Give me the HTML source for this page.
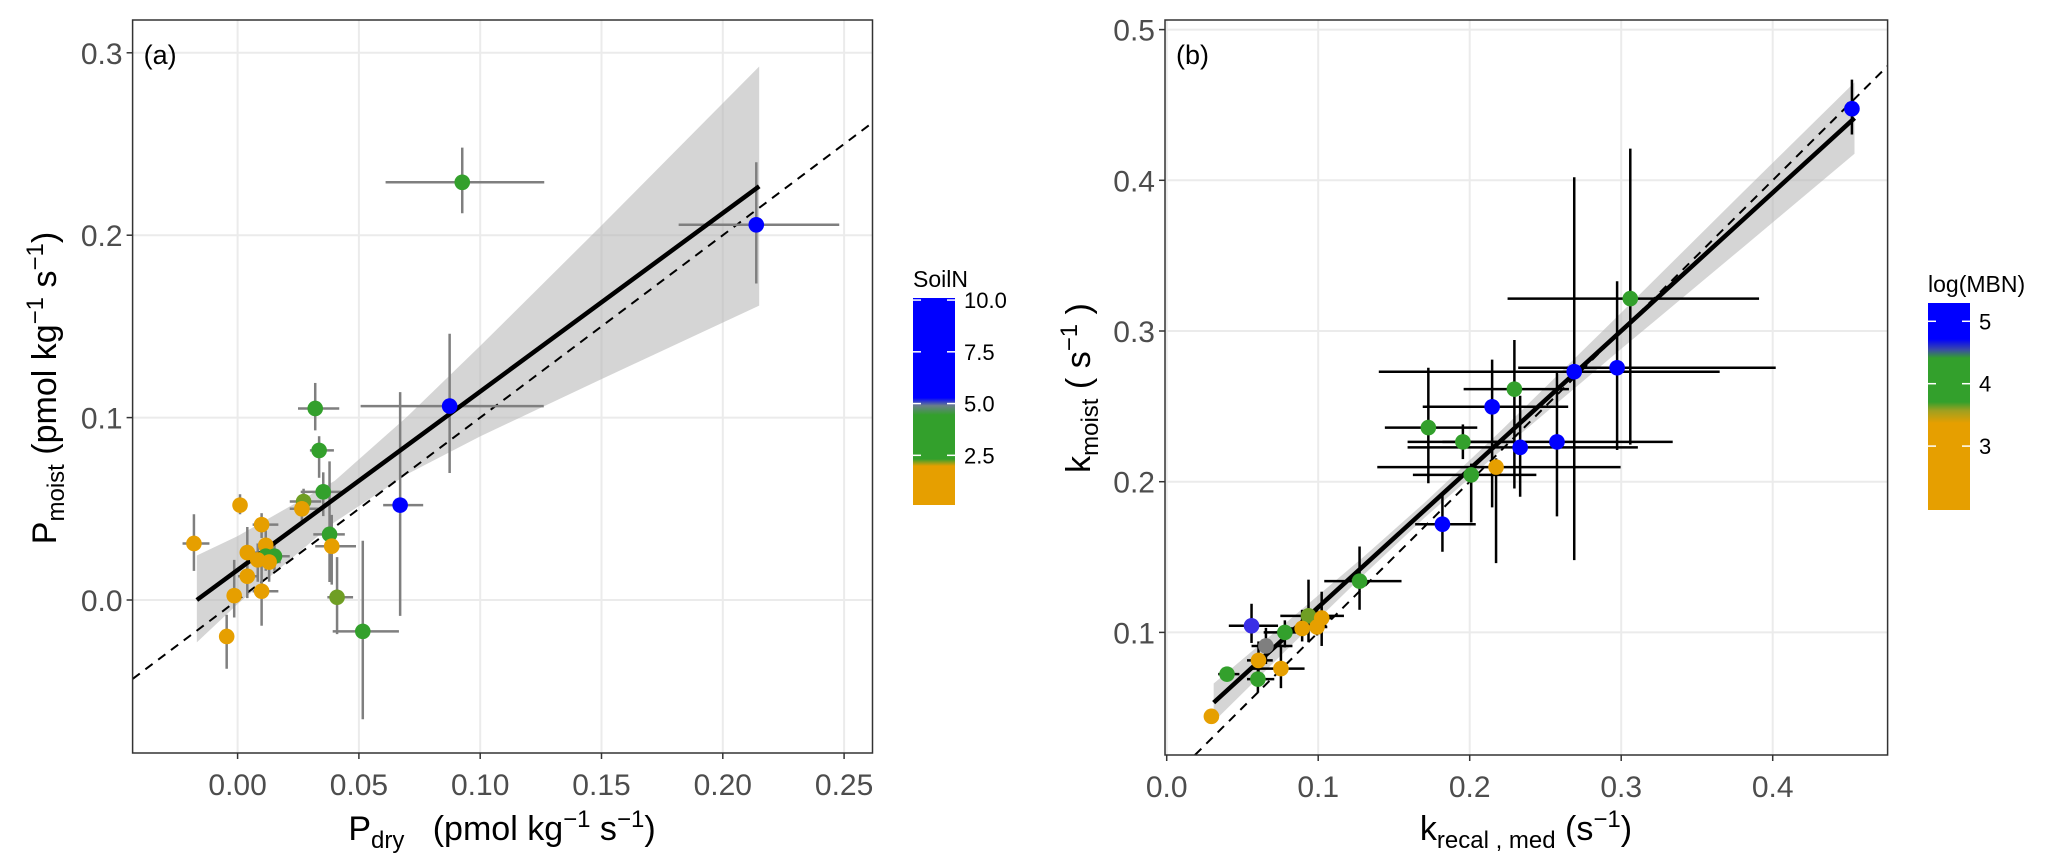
<!DOCTYPE html>
<html><head><meta charset="utf-8"><style>
html,body{margin:0;padding:0;background:#fff;width:2066px;height:861px;overflow:hidden;}
svg{display:block;font-family:"Liberation Sans",Arial,sans-serif;}
</style></head><body>
<svg id="fig" width="2066" height="861" viewBox="0 0 2066 861" xmlns="http://www.w3.org/2000/svg">
<defs>
<linearGradient id="gradA" x1="0" y1="0" x2="0" y2="1">
<stop offset="0" stop-color="#0000ff"/><stop offset="0.483" stop-color="#0000ff"/>
<stop offset="0.52" stop-color="#6a7f8a"/><stop offset="0.565" stop-color="#33a02c"/>
<stop offset="0.778" stop-color="#33a02c"/><stop offset="0.795" stop-color="#8fa01a"/>
<stop offset="0.812" stop-color="#e69f00"/><stop offset="1" stop-color="#e69f00"/>
</linearGradient>
<linearGradient id="gradB" x1="0" y1="0" x2="0" y2="1">
<stop offset="0" stop-color="#0000ff"/><stop offset="0.174" stop-color="#0000ff"/>
<stop offset="0.225" stop-color="#3a4aa8"/><stop offset="0.266" stop-color="#33a02c"/>
<stop offset="0.478" stop-color="#33a02c"/><stop offset="0.52" stop-color="#9fa020"/>
<stop offset="0.58" stop-color="#e69f00"/><stop offset="1" stop-color="#e69f00"/>
</linearGradient>
</defs>
</svg>
<script>
// ---------- Panel A data ----------
const aX    = [0.0926,0.2138,0.0874,0.067,0.032,0.0336,0.0353,0.0272,0.0265,0.0379,0.0388,0.041,0.0516,0.001,0.0099,-0.018,0.0116,0.004,0.0152,0.0116,0.0083,0.013,0.004,-0.0014,0.0099,-0.0045];
const aY    = [0.229,0.2057,0.1063,0.052,0.105,0.082,0.0593,0.054,0.050,0.036,0.0295,0.0015,-0.0172,0.052,0.0413,0.031,0.030,0.026,0.024,0.024,0.022,0.0208,0.013,0.0024,0.0048,-0.020];
const aXlo  = [0.061,0.1818,0.0507,0.060,0.0249,0.0298,0.026,0.0215,0.0215,0.0312,0.032,0.037,0.0392,-0.0009,0.0062,-0.0227,0.0085,0.001,0.0097,0.0085,0.0038,0.0085,0.0002,-0.0038,0.0062,-0.0069];
const aXhi  = [0.1264,0.248,0.1262,0.0765,0.0419,0.0397,0.0443,0.0345,0.0333,0.0442,0.0488,0.0476,0.0665,0.0033,0.0168,-0.0116,0.0156,0.0097,0.0215,0.015,0.0133,0.0178,0.0085,0.0014,0.0168,-0.0021];
const aYlo  = [0.212,0.1735,0.0696,-0.0087,0.093,0.067,0.046,0.047,0.043,0.0099,0.0084,-0.0187,-0.0654,0.047,0.034,0.016,0.022,0.010,0.016,0.016,0.010,0.010,0.001,-0.0096,-0.0141,-0.0377];
const aYhi  = [0.248,0.240,0.146,0.114,0.119,0.0898,0.070,0.061,0.057,0.076,0.0467,0.0235,0.0325,0.058,0.0476,0.047,0.038,0.040,0.031,0.031,0.031,0.031,0.025,0.022,0.019,-0.0081];
const aCol  = ['g','b','b','b','g','g','g','olive','o','g','o','olive','g','o','o','o','o','o','g','g','o','o','o','o','o','o'];
const aFitX = [-0.0168,0.215];
const aFitY = [0,0.2268];
const aRibX = [-0.0168,0.0,0.04,0.07,0.1,0.15,0.215];
const aRibLo= [-0.0232,-0.0022,0.0427,0.0691,0.0897,0.1211,0.1614];
const aRibHi= [0.0244,0.0350,0.0653,0.1007,0.1393,0.2053,0.2925];
const aXTicks=[0,0.05,0.10,0.15,0.20,0.25];
const aXTickLabels=['0.00','0.05','0.10','0.15','0.20','0.25'];
const aYTicks=[0,0.1,0.2,0.3];
const aYTickLabels=['0.0','0.1','0.2','0.3'];
const aLegTicks=[10,7.5,5,2.5];
const aLegLabels=['10.0','7.5','5.0','2.5'];
// ---------- Panel B data ----------
const bX   = [0.4523,0.306,0.2973,0.269,0.2295,0.2148,0.1727,0.1955,0.2333,0.2576,0.201,0.182,0.2174,0.1273,0.056,0.0655,0.078,0.0936,0.0894,0.1023,0.0992,0.0606,0.0754,0.0398,0.0602,0.0295];
const bY   = [0.4475,0.3215,0.2756,0.273,0.2614,0.2497,0.2359,0.2264,0.2228,0.2264,0.2045,0.1718,0.2097,0.134,0.1044,0.091,0.100,0.111,0.1026,0.1095,0.1036,0.0814,0.076,0.0723,0.069,0.0443];
const bXlo = [0.4523,0.225,0.232,0.140,0.196,0.169,0.144,0.159,0.159,0.182,0.1625,0.164,0.139,0.104,0.041,0.056,0.064,0.075,0.079,0.094,0.092,0.053,0.056,0.034,0.053,0.0295];
const bXhi = [0.4523,0.391,0.402,0.365,0.2655,0.265,0.205,0.230,0.311,0.334,0.244,0.204,0.2996,0.155,0.0735,0.083,0.094,0.117,0.102,0.109,0.106,0.070,0.091,0.048,0.071,0.0295];
const bYlo = [0.4304,0.2246,0.221,0.148,0.1955,0.183,0.199,0.215,0.190,0.177,0.173,0.1535,0.146,0.115,0.093,0.079,0.090,0.0935,0.094,0.091,0.098,0.070,0.063,0.068,0.060,0.0443];
const bYhi = [0.4668,0.421,0.333,0.402,0.294,0.281,0.2756,0.238,0.257,0.2738,0.212,0.192,0.2155,0.157,0.119,0.103,0.108,0.135,0.115,0.127,0.115,0.094,0.092,0.077,0.079,0.0443];
const bCol = ['b','g','b','b','g','b','g','g','b','b','g','b','o','g','purple','gray','g','olive','o','o','o','o','o','g','g','o'];
const bFitX=[0.031,0.454];
const bFitY=[0.0534,0.4413];
const bRibX=[0.031,0.08,0.13,0.17,0.22,0.3,0.38,0.454];
const bRibLo=[0.0407,0.0893,0.1382,0.1759,0.2202,0.2881,0.3552,0.4176];
const bRibHi=[0.0661,0.1075,0.1502,0.1859,0.2332,0.3121,0.3918,0.4650];
const bXTicks=[0,0.1,0.2,0.3,0.4];
const bXTickLabels=['0.0','0.1','0.2','0.3','0.4'];
const bYTicks=[0.1,0.2,0.3,0.4,0.5];
const bYTickLabels=['0.1','0.2','0.3','0.4','0.5'];
const bLegTicks=[5,4,3];
const bLegLabels=['5','4','3'];

const COLORS={o:'#e69f00',g:'#33a02c',b:'#0000ff',olive:'#6f9e24',purple:'#3a2fe6',gray:'#7f7f7f'};
const NS='http://www.w3.org/2000/svg';
const svg=document.getElementById('fig');
function mk(tag,attrs,parent){const e=document.createElementNS(NS,tag);for(const k in attrs)e.setAttribute(k,attrs[k]);(parent||svg).appendChild(e);return e;}

function panel(cfg){
  const g=mk('g',{});
  
  
  const sx=v=>cfg.x0px+(v-cfg.x0)*cfg.xs;
  const sy=v=>cfg.y0px-(v-cfg.y0)*cfg.ys;
  const L=cfg.box[0],R=cfg.box[1],T=cfg.box[2],B=cfg.box[3];
  const xmin=cfg.x0+(L-cfg.x0px)/cfg.xs, xmax=cfg.x0+(R-cfg.x0px)/cfg.xs;
  const ymin=cfg.y0+(cfg.y0px-B)/cfg.ys, ymax=cfg.y0+(cfg.y0px-T)/cfg.ys;
  const clipId='clip'+cfg.name;
  const cp=mk('clipPath',{id:clipId},g);mk('rect',{x:L,y:T,width:R-L,height:B-T},cp);
  cfg.xt.forEach(t=>{const l=mk('line',{x1:sx(t),x2:sx(t),y1:T,y2:B,stroke:'#ebebeb','stroke-width':2},g);});
  cfg.yt.forEach(t=>{const l=mk('line',{x1:L,x2:R,y1:sy(t),y2:sy(t),stroke:'#ebebeb','stroke-width':2},g);});
  const inner=mk('g',{'clip-path':'url(#'+clipId+')'},g);
  let d='';
  cfg.ribX.forEach((x,i)=>{d+=(i?'L':'M')+sx(x)+','+sy(Math.min(cfg.ribHi[i],ymax))+' ';});
  for(let i=cfg.ribX.length-1;i>=0;i--)d+='L'+sx(cfg.ribX[i])+','+sy(Math.max(cfg.ribLo[i],ymin))+' ';
  const rib=mk('path',{d:d+'Z',fill:'#b3b3b3','fill-opacity':0.55},inner);
  
  
  const lo=Math.max(xmin,ymin), hi=Math.min(xmax,ymax);
  const dl=mk('line',{x1:sx(lo),y1:sy(lo),x2:sx(hi),y2:sy(hi),stroke:'#000','stroke-width':2,'stroke-dasharray':'9,7'},inner);
  
  
  cfg.X.forEach((x,i)=>{
    const eg=mk('g',{stroke:cfg.errCol,'stroke-width':2.5},inner);
    
    
    if(cfg.Xhi[i]>cfg.Xlo[i])mk('line',{x1:sx(cfg.Xlo[i]),x2:sx(cfg.Xhi[i]),y1:sy(cfg.Y[i]),y2:sy(cfg.Y[i])},eg);
    if(cfg.Yhi[i]>cfg.Ylo[i])mk('line',{x1:sx(x),x2:sx(x),y1:sy(Math.max(cfg.Ylo[i],ymin)),y2:sy(cfg.Yhi[i])},eg);
  });
  const fl=mk('line',{x1:sx(cfg.fitX[0]),y1:sy(cfg.fitY[0]),x2:sx(cfg.fitX[1]),y2:sy(cfg.fitY[1]),stroke:'#000','stroke-width':4.5},inner);
  
  
  cfg.X.forEach((x,i)=>{
    const c=mk('circle',{cx:sx(x),cy:sy(cfg.Y[i]),r:7.8,fill:COLORS[cfg.C[i]]},inner);
    
    
  });
  const bd=mk('rect',{x:L,y:T,width:R-L,height:B-T,fill:'none',stroke:'#333','stroke-width':1.5},g);
  
  
  cfg.xt.forEach((t,i)=>{
    mk('line',{x1:sx(t),x2:sx(t),y1:B,y2:B+6,stroke:'#333','stroke-width':1.5},g);
    const tx=mk('text',{x:sx(t),y:B+42,'text-anchor':'middle','font-size':30,fill:'#4d4d4d'},g);
    tx.textContent=cfg.xl[i];
    
    
  });
  cfg.yt.forEach((t,i)=>{
    mk('line',{x1:L-6,x2:L,y1:sy(t),y2:sy(t),stroke:'#333','stroke-width':1.5},g);
    const tx=mk('text',{x:L-10,y:sy(t)+11,'text-anchor':'end','font-size':30,fill:'#4d4d4d'},g);
    tx.textContent=cfg.yl[i];
    
    
  });
  const pl=mk('text',{x:L+11,y:T+44,'font-size':27,fill:'#000'},g);
  pl.textContent=cfg.label;
  
  
  return g;
}

panel({name:'panel-a',box:[132.6,872.5,20,753],x0:0,x0px:237.6,xs:121.3/0.05,y0:0,y0px:600,ys:1824,
  X:aX,Y:aY,Xlo:aXlo,Xhi:aXhi,Ylo:aYlo,Yhi:aYhi,C:aCol,errCol:'#7f7f7f',
  fitX:aFitX,fitY:aFitY,ribX:aRibX,ribLo:aRibLo,ribHi:aRibHi,xt:aXTicks,xl:aXTickLabels,yt:aYTicks,yl:aYTickLabels,label:'(a)'});
panel({name:'panel-b',box:[1165,1887.6,20,755],x0:0,x0px:1166.7,xs:1515,y0:0.1,y0px:632.4,ys:1507,
  X:bX,Y:bY,Xlo:bXlo,Xhi:bXhi,Ylo:bYlo,Yhi:bYhi,C:bCol,errCol:'#000',
  fitX:bFitX,fitY:bFitY,ribX:bRibX,ribLo:bRibLo,ribHi:bRibHi,xt:bXTicks,xl:bXTickLabels,yt:bYTicks,yl:bYTickLabels,label:'(b)'});

function legend(name,title,x,top,bottom,grad,ticks,labels,vTop,vBot){
  const g=mk('g',{});
  
  
  const t=mk('text',{x:x,y:top-11,'font-size':23,fill:'#000'},g);t.textContent=title;
  
  
  mk('rect',{x:x,y:top,width:42,height:bottom-top,fill:'url(#'+grad+')'},g);
  ticks.forEach((v,i)=>{
    const y=top+(vTop-v)/(vTop-vBot)*(bottom-top);
    mk('line',{x1:x,x2:x+8,y1:y,y2:y,stroke:'#fff','stroke-width':1.5},g);
    mk('line',{x1:x+34,x2:x+42,y1:y,y2:y,stroke:'#fff','stroke-width':1.5},g);
    const l=mk('text',{x:x+51,y:y+8,'font-size':22,fill:'#000'},g);l.textContent=labels[i];
    
    
  });
}
legend('soiln-colorbar','SoilN',913,298,505,'gradA',aLegTicks,aLegLabels,10.1,0.1);
legend('logmbn-colorbar','log(MBN)',1928,303,510,'gradB',bLegTicks,bLegLabels,5.293,1.976);

function txt(html,attrs,name){const t=document.createElementNS(NS,'text');for(const k in attrs)t.setAttribute(k,attrs[k]);t.innerHTML=html;svg.appendChild(t);

}
txt('P<tspan font-size="24" dy="8">moist</tspan><tspan dy="-8"> (pmol kg</tspan><tspan font-size="24" dy="-13">−1</tspan><tspan dy="13"> s</tspan><tspan font-size="24" dy="-13">−1</tspan><tspan dy="13">)</tspan>',
 {transform:'translate(56,388) rotate(-90)','text-anchor':'middle','font-size':34,fill:'#000'},'y-axis-title-a');
txt('P<tspan font-size="24" dy="8">dry</tspan><tspan dy="-8" xml:space="preserve">   (pmol kg</tspan><tspan font-size="24" dy="-13">−1</tspan><tspan dy="13"> s</tspan><tspan font-size="24" dy="-13">−1</tspan><tspan dy="13">)</tspan>',
 {x:502,y:840,'text-anchor':'middle','font-size':34,fill:'#000'},'x-axis-title-a');
txt('k<tspan font-size="24" dy="8">moist</tspan><tspan dy="-8"> ( s</tspan><tspan font-size="24" dy="-13">−1</tspan><tspan dy="13"> )</tspan>',
 {transform:'translate(1090,388) rotate(-90)','text-anchor':'middle','font-size':34,fill:'#000'},'y-axis-title-b');
txt('k<tspan font-size="24" dy="8">recal , med</tspan><tspan dy="-8"> (s</tspan><tspan font-size="24" dy="-13">−1</tspan><tspan dy="13">)</tspan>',
 {x:1526,y:840,'text-anchor':'middle','font-size':34,fill:'#000'},'x-axis-title-b');
</script>
</body></html>
